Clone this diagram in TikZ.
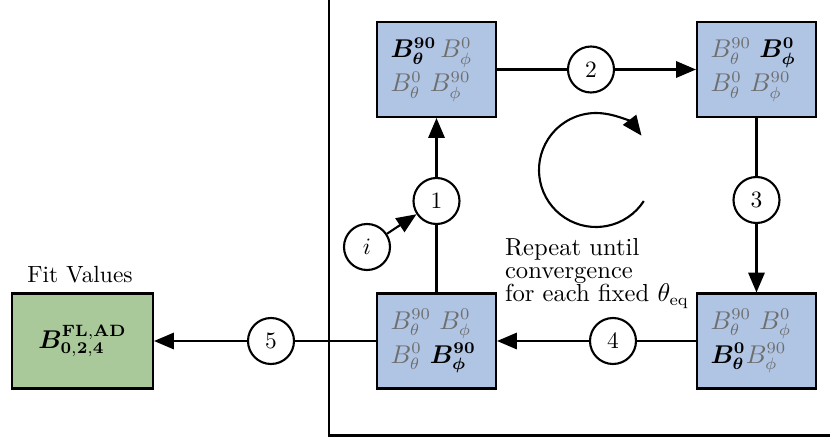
\documentclass[tikz,border=0pt]{standalone}
\usepackage{bm}
\usetikzlibrary{arrows.meta}
\definecolor{boxblue}{RGB}{176,196,227}
\definecolor{boxgreen}{RGB}{169,201,154}
\definecolor{dimtext}{RGB}{110,110,110}
\newcommand{\dimB}[2]{{\color{dimtext}$B^{#1}_{#2}$}}
\newcommand{\boldB}[2]{$\bm{B}^{\bm{#1}}_{\bm{#2}}$}
\begin{document}
\begin{tikzpicture}[x=0.015cm,y=-0.015cm, line width=0.9pt,
  arr/.style={-{Triangle[length=8.5pt,width=7pt]}},
  stagebox/.style={draw, fill=boxblue, minimum width=1.785cm, minimum height=1.425cm,
    text width=1.38cm, align=left, inner xsep=0.1cm, font=\fontsize{10.5}{14.5}\selectfont},
  fitbox/.style={draw, fill=boxgreen, minimum width=2.115cm, minimum height=1.425cm},
  stepc/.style={draw, circle, fill=white, minimum size=0.69cm, inner sep=0pt}]
\useasboundingbox (0,0) rectangle (830,442);
\clip (0,0) rectangle (830,442);
\draw (329,-10) -- (329,435.5) -- (845,435.5);

\node[stagebox] (tl) at (436.5,69.5) {\boldB{90}{\theta}\,\dimB{0}{\phi}\\ \dimB{0}{\theta} \dimB{90}{\phi}};
\node[stagebox] (tr) at (756.5,69.5) {\dimB{90}{\theta} \boldB{0}{\phi}\\ \dimB{0}{\theta} \dimB{90}{\phi}};
\node[stagebox] (bl) at (436.5,341) {\dimB{90}{\theta} \dimB{0}{\phi}\\ \dimB{0}{\theta} \boldB{90}{\phi}};
\node[stagebox] (br) at (756.5,341) {\dimB{90}{\theta} \dimB{0}{\phi}\\ \boldB{0}{\theta}\dimB{90}{\phi}};
\node[fitbox, font=\fontsize{10.5}{13}\selectfont] (fit) at (82.5,341) {$\bm{B}^{\mathbf{FL,AD}}_{\mathbf{0,2,4}}$};
\node[anchor=base] (fitlabel) at (80,282) {Fit Values};

\node[stepc] (c1) at (436.5,201) {1};
\node[stepc] (ci) at (367,247) {$i$};
\node[stepc] (c2) at (591,69.5) {2};
\node[stepc] (c3) at (756.5,200) {3};
\node[stepc] (c4) at (613,341) {4};
\node[stepc] (c5) at (271,341) {5};

\draw (tl) -- (c2); \draw[arr] (c2) -- (tr);
\draw (tr) -- (c3); \draw[arr] (c3) -- (br);
\draw (br) -- (c4); \draw[arr] (c4) -- (bl);
\draw (bl) -- (c1); \draw[arr] (c1) -- (tl);
\draw[arr] (ci) -- (c1);
\draw (bl) -- (c5); \draw[arr] (c5) -- (fit);

\draw[arr] (596,170) ++(33:57) arc[start angle=33, end angle=323, radius=57];

\node[anchor=north west, align=left, inner sep=0pt, font=\fontsize{10.5}{12}\selectfont] (rep) at (504,237)
  {Repeat until\\[-2pt]convergence\\[-2pt]for each fixed $\theta_{\mathrm{eq}}$};
\end{tikzpicture}
\end{document}
